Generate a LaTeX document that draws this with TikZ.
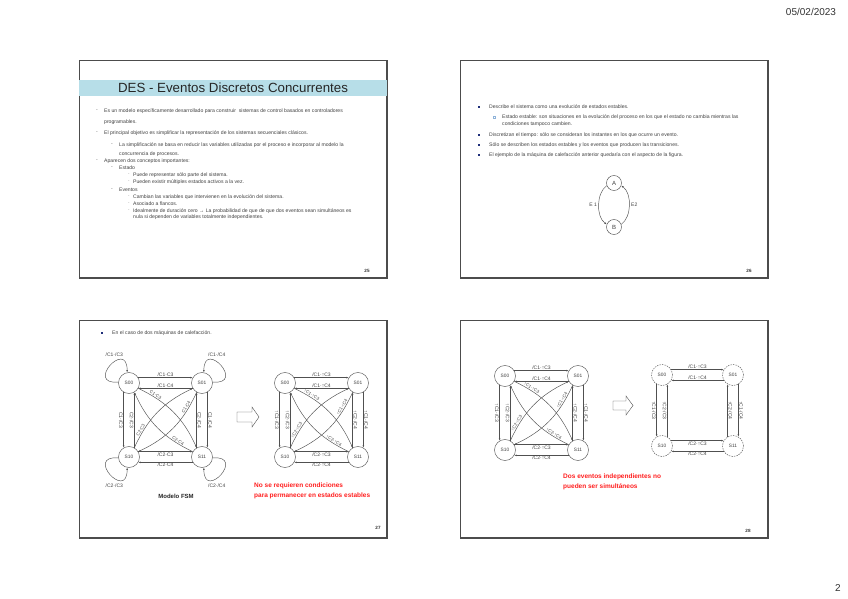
\documentclass[tikz,border=0pt]{standalone}
\usepackage{fontspec}
\setmainfont{Liberation Sans}
\usepackage{tikz}
\usetikzlibrary{arrows.meta}
\definecolor{banda}{HTML}{B7DEE8}
\definecolor{azulvin}{HTML}{1F2F7A}
\definecolor{azulclaro}{HTML}{8FB3D9}
\definecolor{rojoaviso}{HTML}{FF2020}
\definecolor{trazo}{HTML}{505050}
\newcommand{\tam}[1]{\fontsize{#1}{#1}\selectfont}

% four states with flank events (#1,#2: S00 centre, #3: prefix, #4: flank mark)
\newcommand{\maquina}[4]{%
  \node[estado] (#3-00) at (#1,-#2) {S00};
  \node[estado] (#3-01) at (#1+73,-#2) {S01};
  \node[estado] (#3-10) at (#1,-#2-74) {S10};
  \node[estado] (#3-11) at (#1+73,-#2-74) {S11};
  \draw[trans] (#3-00.30) -- node[etiq, above] (#3-e1) {/C1·#4C3} (#3-01.150);
  \draw[trans] (#3-01.210) -- node[etiq, above] (#3-e2) {/C1·#4C4} (#3-00.330);
  \draw[trans] (#3-10.30) -- node[etiq, below] (#3-e3) {/C2·#4C3} (#3-11.150);
  \draw[trans] (#3-11.210) -- node[etiq, below] (#3-e4) {/C2·#4C4} (#3-10.330);
  \draw[trans] (#3-00.240) -- node[etiq, rotate=-90, anchor=north] (#3-e5) {#4C1·/C3} (#3-10.120);
  \draw[trans] (#3-10.60) -- node[etiq, rotate=-90, anchor=north] (#3-e6) {#4C2·/C3} (#3-00.300);
  \draw[trans] (#3-11.120) -- node[etiq, rotate=-90, anchor=south] (#3-e7) {#4C2·/C4} (#3-01.240);
  \draw[trans] (#3-01.300) -- node[etiq, rotate=-90, anchor=south] (#3-e8) {#4C1·/C4} (#3-11.60);
  \draw[trans] (#3-00.-30) to[bend left=20] node[diag, pos=0.2, above] (#3-e9) {#4C1·#4C3} (#3-11.120);
  \draw[trans] (#3-11.150) to[bend left=20] node[diag, pos=0.2, above] (#3-e10) {#4C2·#4C4} (#3-00.-60);
  \draw[trans] (#3-01.240) to[bend left=20] node[diag, pos=0.2, above] (#3-e11) {#4C1·#4C4} (#3-10.30);
  \draw[trans] (#3-10.60) to[bend left=20] node[diag, pos=0.2, above] (#3-e12) {#4C2·#4C3} (#3-01.210);
}

\begin{document}
\begin{tikzpicture}[x=1pt, y=1pt,
  marco/.style={draw=black!70, line width=0.7pt},
  sombra/.style={draw=black!70, line width=1.6pt},
  cuerpo/.style={anchor=west, inner sep=0pt, font=\tam{5.1}, text=black!75},
  vineta/.style={inner sep=0pt, font=\tam{5.1}, text=black!60},
  cuadro/.style={rectangle, fill=azulvin, minimum size=1.8pt, inner sep=0pt},
  cuadrohueco/.style={rectangle, draw=azulclaro, line width=0.3pt, minimum size=2pt, inner sep=0pt},
  estado/.style={circle, draw=trazo, line width=0.45pt, minimum size=21pt, inner sep=0pt, font=\tam{4.8}, text=black!75},
  estadoguion/.style={estado, dash pattern=on 1.5pt off 1pt},
  trans/.style={-{Latex[length=2.4pt,width=1.8pt]}, draw=trazo, line width=0.45pt},
  etiq/.style={inner sep=0.7pt, font=\tam{5}, text=black!75},
  diag/.style={etiq, sloped, font=\tam{4.4}},
  hueca/.style={draw=trazo, line width=0.4pt, fill=white},
  aviso/.style={anchor=west, inner sep=0pt, font=\bfseries\tam{6.5}, text=rojoaviso},
  numero/.style={inner sep=0pt, font=\bfseries\tam{4.6}, text=black!80}
]
\useasboundingbox[fill=white] (0,0) rectangle (848,-599);
\node[font=\tam{10}, text=black!80] (fecha) at (811,-12) {05/02/2023};
\node[font=\tam{10}, text=black!80] (pagina) at (838,-588) {2};

% slide 25
\draw[marco] (79,-60) rectangle (387,-278);
\draw[sombra] (79,-278) -- (387,-278) -- (387,-60);
\fill[banda] (79.4,-80) rectangle (386.6,-96);
\node[font=\tam{13.3}, text=black!85] (titulo) at (233,-88) {DES - Eventos Discretos Concurrentes};
\node[vineta] (v1) at (97,-111) {-};
\node[cuerpo] (l1) at (104,-111) {Es un modelo específicamente desarrollado para construir\ \ sistemas de control basados en controladores};
\node[cuerpo] (l2) at (104,-122) {programables.};
\node[vineta] (v2) at (97,-133) {-};
\node[cuerpo] (l3) at (104,-133) {El principal objetivo es simplificar la representación de los sistemas secuenciales clásicos.};
\node[vineta] (v3) at (112,-145) {-};
\node[cuerpo] (l4) at (119,-145) {La simplificación se basa en reducir las variables utilizadas por el proceso e incorporar al modelo la};
\node[cuerpo] (l5) at (119,-154) {concurrencia de procesos.};
\node[vineta] (v4) at (97,-161) {-};
\node[cuerpo] (l6) at (104,-161) {Aparecen dos conceptos importantes:};
\node[vineta] (v5) at (112,-168) {-};
\node[cuerpo] (l7) at (119,-168) {Estado};
\node[vineta] (v6) at (129,-175) {·};
\node[cuerpo] (l8) at (133,-175) {Puede representar sólo parte del sistema.};
\node[vineta] (v7) at (129,-182) {·};
\node[cuerpo] (l9) at (133,-182) {Pueden existir múltiples estados activos a la vez.};
\node[vineta] (v8) at (112,-190) {-};
\node[cuerpo] (l10) at (119,-190) {Eventos};
\node[vineta] (v9) at (129,-197) {·};
\node[cuerpo] (l11) at (133,-197) {Cambian las variables que intervienen en la evolución del sistema.};
\node[vineta] (v10) at (129,-204) {·};
\node[cuerpo] (l12) at (133,-204) {Asociado a flancos.};
\node[vineta] (v11) at (129,-211) {·};
\node[cuerpo] (l13) at (133,-211) {Idealmente de duración cero → La probabilidad de que de que dos eventos sean simultáneos es};
\node[cuerpo] (l14) at (133,-217) {nula si dependen de variables totalmente independientes.};
\node[numero] (n25) at (367,-271) {25};

% slide 26
\draw[marco] (460,-60) rectangle (768,-278);
\draw[sombra] (460,-278) -- (768,-278) -- (768,-60);
\node[cuadro] (c1) at (479,-107) {};
\node[cuerpo] (d1) at (489,-107) {Describe el sistema como una evolución de estados estables.};
\node[cuadrohueco] (c2) at (494,-117) {};
\node[cuerpo] (d2) at (502,-117) {Estado estable: son situaciones en la evolución del proceso en los que el estado no cambia mientras las};
\node[cuerpo] (d3) at (502,-124) {condiciones tampoco cambien.};
\node[cuadro] (c3) at (479,-135) {};
\node[cuerpo] (d4) at (489,-135) {Discretizan el tiempo: sólo se consideran los instantes en los que ocurre un evento.};
\node[cuadro] (c4) at (479,-145) {};
\node[cuerpo] (d5) at (489,-145) {Sólo se describen los estados estables y los eventos que producen las transiciones.};
\node[cuadro] (c5) at (479,-155) {};
\node[cuerpo] (d6) at (489,-155) {El ejemplo de la máquina de calefacción anterior quedaría con el aspecto de la figura.};
\node[estado, minimum size=15pt, font=\tam{6}] (A) at (614,-183) {A};
\node[estado, minimum size=15pt, font=\tam{6}] (B) at (614,-227) {B};
\draw[trans] (A.200) .. controls +(215:13) and +(145:13) .. (B.160) node[etiq, pos=0.5, left=1pt] (e1) {E 1};
\draw[trans] (B.20) .. controls +(35:13) and +(-35:13) .. (A.-20) node[etiq, pos=0.5, right=1pt] (e2) {E2};
\node[numero] (n26) at (749,-271) {26};

% slide 27
\draw[marco] (79,-320) rectangle (387,-538);
\draw[sombra] (79,-538) -- (387,-538) -- (387,-320);
\node[cuadro] (c6) at (102,-333) {};
\node[cuerpo] (m1) at (112,-333) {En el caso de dos máquinas de calefacción.};
\maquina{129}{383}{f}{}
\draw[trans] (f-00.175) .. controls +(185:34) and +(90:34) .. (f-00.100) node[etiq, pos=0.6, above=4.5pt] (f-b1) {/C1·/C3};
\draw[trans] (f-01.5) .. controls +(-5:34) and +(90:34) .. (f-01.80) node[etiq, pos=0.6, above=4.5pt] (f-b2) {/C1·/C4};
\draw[trans] (f-10.185) .. controls +(175:34) and +(270:34) .. (f-10.260) node[etiq, pos=0.6, below=4.5pt] (f-b3) {/C2·/C3};
\draw[trans] (f-11.355) .. controls +(5:34) and +(270:34) .. (f-11.280) node[etiq, pos=0.6, below=4.5pt] (f-b4) {/C2·/C4};
\node[font=\bfseries\tam{6}, text=black!85] (modelo) at (176,-496) {Modelo FSM};
\draw[hueca] (237,-412) -- (252,-412) -- (252,-407) -- (259,-417) -- (252,-427) -- (252,-422) -- (237,-422) -- cycle;
\maquina{285}{383}{g}{↑}
\node[aviso] (r1) at (254,-486) {No se requieren condiciones};
\node[aviso] (r2) at (254,-496) {para permanecer en estados estables};
\node[numero] (n27) at (378,-528) {27};

% slide 28
\draw[marco] (460,-320) rectangle (768,-538);
\draw[sombra] (460,-538) -- (768,-538) -- (768,-320);
\maquina{505}{376}{h}{↑}
\draw[hueca] (613,-401) -- (626,-401) -- (626,-396) -- (633,-405.5) -- (626,-415) -- (626,-410) -- (613,-410) -- cycle;
\node[estadoguion] (k-00) at (662,-375) {S00};
\node[estadoguion] (k-01) at (733,-375) {S01};
\node[estadoguion] (k-10) at (662,-446) {S10};
\node[estadoguion] (k-11) at (733,-446) {S11};
\draw[trans] (k-00.30) -- node[etiq, above] (k-e1) {/C1·↑C3} (k-01.150);
\draw[trans] (k-01.210) -- node[etiq, above] (k-e2) {/C1·↑C4} (k-00.330);
\draw[trans] (k-10.30) -- node[etiq, below] (k-e3) {/C2·↑C3} (k-11.150);
\draw[trans] (k-11.210) -- node[etiq, below] (k-e4) {/C2·↑C4} (k-10.330);
\draw[trans] (k-00.240) -- node[etiq, rotate=-90, anchor=north] (k-e5) {↑C1·/C3} (k-10.120);
\draw[trans] (k-10.60) -- node[etiq, rotate=-90, anchor=north] (k-e6) {↑C2·/C3} (k-00.300);
\draw[trans] (k-11.120) -- node[etiq, rotate=-90, anchor=south] (k-e7) {↑C2·/C4} (k-01.240);
\draw[trans] (k-01.300) -- node[etiq, rotate=-90, anchor=south] (k-e8) {↑C1·/C4} (k-11.60);
\node[aviso] (r3) at (563,-477) {Dos eventos independientes no};
\node[aviso] (r4) at (563,-487) {pueden ser simultáneos};
\node[numero] (n28) at (748,-531) {28};
\end{tikzpicture}
\end{document}
